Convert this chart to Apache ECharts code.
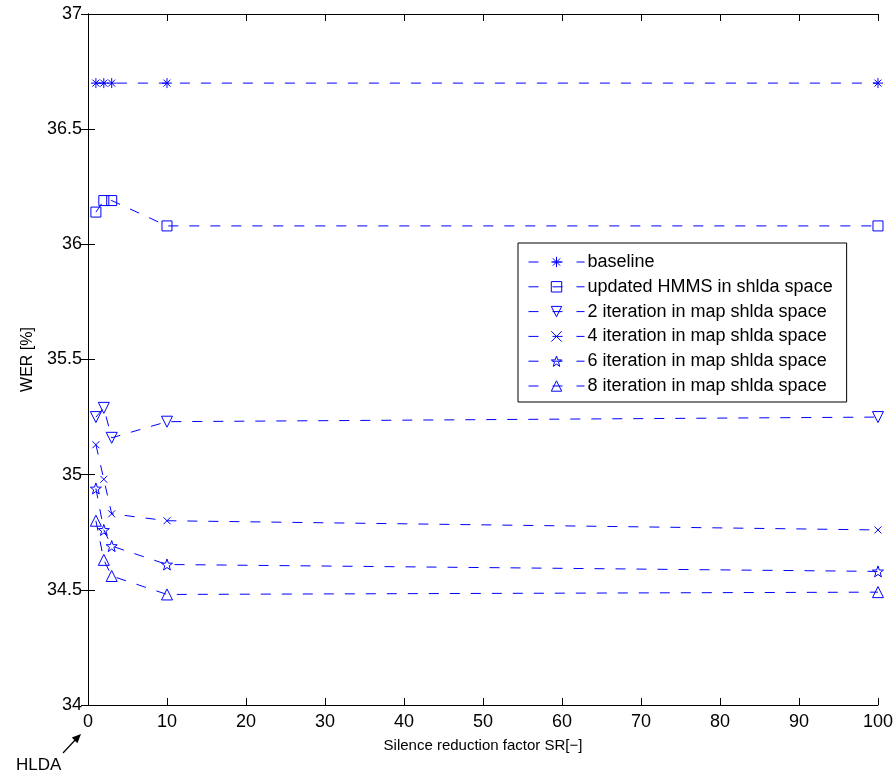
<!DOCTYPE html>
<html>
<head>
<meta charset="utf-8">
<script src="https://cdn.jsdelivr.net/npm/echarts@6/dist/echarts.min.js"></script>
<style>
    html, body { margin: 0; padding: 0; background: #fff; }
    #chart { width: 896px; height: 776px; }
</style>
</head>
<body>
<div id="chart"></div>
<script type="text/javascript">
    // silence reduction factors
    var srValues = [1, 2, 3, 10, 100];
    var xTicks = [0, 10, 20, 30, 40, 50, 60, 70, 80, 90, 100];
    var yTicks = [34, 34.5, 35, 35.5, 36, 36.5, 37];

    var baseline  = [36.70, 36.70, 36.70, 36.70, 36.70];
    var updHmms   = [36.14, 36.19, 36.19, 36.08, 36.08];
    var iter2     = [35.25, 35.29, 35.16, 35.23, 35.25];
    var iter4     = [35.13, 34.98, 34.83, 34.80, 34.76];
    var iter6     = [34.94, 34.76, 34.69, 34.61, 34.58];
    var iter8     = [34.80, 34.63, 34.56, 34.48, 34.49];

    var names = ['baseline', 'updated HMMS in shlda space', '2 iteration in map shlda space',
        '4 iteration in map shlda space', '6 iteration in map shlda space', '8 iteration in map shlda space'];

    var blue = '#0000ff';
    var font = 'Liberation Sans, Arial, Helvetica, sans-serif';
    var fs = 18;

    var symAsterisk = 'path://M5,0L5,10M0,5L10,5M1.5,1.5L8.5,8.5M8.5,1.5L1.5,8.5';
    var symSquare = 'path://M0,0L10,0L10,10L0,10Z';
    var symTriDown = 'path://M0,0L10,0L5,9Z';
    var symTriUp = 'path://M5,0L10,9L0,9Z';
    var symX = 'path://M0,0L10,10M10,0L0,10';
    var symStar = 'path://M5,0L6.176,3.382L9.755,3.455L6.902,5.618L7.939,9.045L5,7L2.061,9.045L3.098,5.618L0.245,3.455L3.824,3.382Z';

    function pairs(vals) {
        return srValues.map(function (x, i) { return [x, vals[i]]; });
    }

    function mkSeries(name, vals, symbol, size) {
        return {
            name: name,
            type: 'line',
            data: pairs(vals),
            symbol: symbol,
            symbolSize: size,
            showAllSymbol: true,
            animation: false,
            lineStyle: { color: blue, width: 1, type: [10, 11] },
            itemStyle: { color: 'rgba(0,0,0,0)', borderColor: blue, borderWidth: 1 },
            emphasis: { disabled: true }
        };
    }

    var myChart = echarts.init(document.getElementById('chart'));
    var option = {
        backgroundColor: '#fff',
        animation: false,
        grid: { left: 88, right: 16, top: 14, bottom: 71 },
        legend: {
            left: 518,
            top: 243,
            orient: 'vertical',
            data: names,
            padding: [10, 14, 7, 10],
            itemGap: 6.8,
            itemWidth: 56,
            itemHeight: 13,
            backgroundColor: '#fff',
            borderColor: '#000',
            borderWidth: 1,
            borderRadius: 0,
            textStyle: { fontFamily: font, fontSize: fs, color: '#000', padding: [0, 0, 0, -2] },
            lineStyle: { type: [10, 14], width: 1 },
            itemStyle: { borderWidth: 1 },
            selectedMode: false
        },
        xAxis: [{
            type: 'value',
            min: 0, max: 100, interval: 10,
            name: 'Silence reduction factor SR[\u2212]',
            nameLocation: 'middle',
            nameGap: 33,
            nameTextStyle: { fontFamily: font, fontSize: 15, color: '#000' },
            axisLine: { lineStyle: { color: '#000', width: 1 } },
            axisTick: { inside: true, length: 7, lineStyle: { color: '#000' } },
            axisLabel: { fontFamily: font, fontSize: fs, color: '#000', margin: 8 },
            splitLine: { show: false }
        }, {
            type: 'value',
            position: 'top',
            min: 0, max: 100, interval: 10,
            axisLine: { lineStyle: { color: '#000', width: 1 } },
            axisTick: { inside: true, length: 7, lineStyle: { color: '#000' } },
            axisLabel: { show: false },
            splitLine: { show: false }
        }],
        yAxis: [{
            type: 'value',
            min: 34, max: 37, interval: 0.5,
            name: 'WER [%]',
            nameLocation: 'middle',
            nameGap: 45,
            nameTextStyle: { fontFamily: font, fontSize: 16, color: '#000' },
            axisLine: { show: true, lineStyle: { color: '#000', width: 1 } },
            axisTick: { show: true, inside: true, length: 7, lineStyle: { color: '#000' } },
            axisLabel: {
                fontFamily: font, fontSize: fs, color: '#000', margin: 6,
                formatter: function (v) { return String(v); }
            },
            splitLine: { show: false }
        }, {
            type: 'value',
            position: 'right',
            min: 34, max: 37, interval: 0.5,
            axisLine: { show: true, lineStyle: { color: '#000', width: 1 } },
            axisTick: { show: true, inside: true, length: 7, lineStyle: { color: '#000' } },
            axisLabel: { show: false },
            splitLine: { show: false }
        }],
        series: [
            mkSeries(names[0], baseline, symAsterisk, 10),
            mkSeries(names[1], updHmms, symSquare, 10),
            mkSeries(names[2], iter2, symTriDown, 11),
            mkSeries(names[3], iter4, symX, 7),
            mkSeries(names[4], iter6, symStar, 11),
            mkSeries(names[5], iter8, symTriUp, 11)
        ],
        graphic: [
            {
                type: 'text',
                left: 16, top: 757,
                style: { text: 'HLDA', fontFamily: font, fontSize: 17, fill: '#000' }
            },
            {
                type: 'line',
                shape: { x1: 63, y1: 753, x2: 77, y2: 738 },
                style: { stroke: '#000', lineWidth: 1.2 }
            },
            {
                type: 'polygon',
                shape: { points: [[81, 734], [77.4, 743.2], [71.8, 737.6]] },
                style: { fill: '#000' }
            }
        ]
    };
    myChart.setOption(option);
</script>
</body>
</html>
